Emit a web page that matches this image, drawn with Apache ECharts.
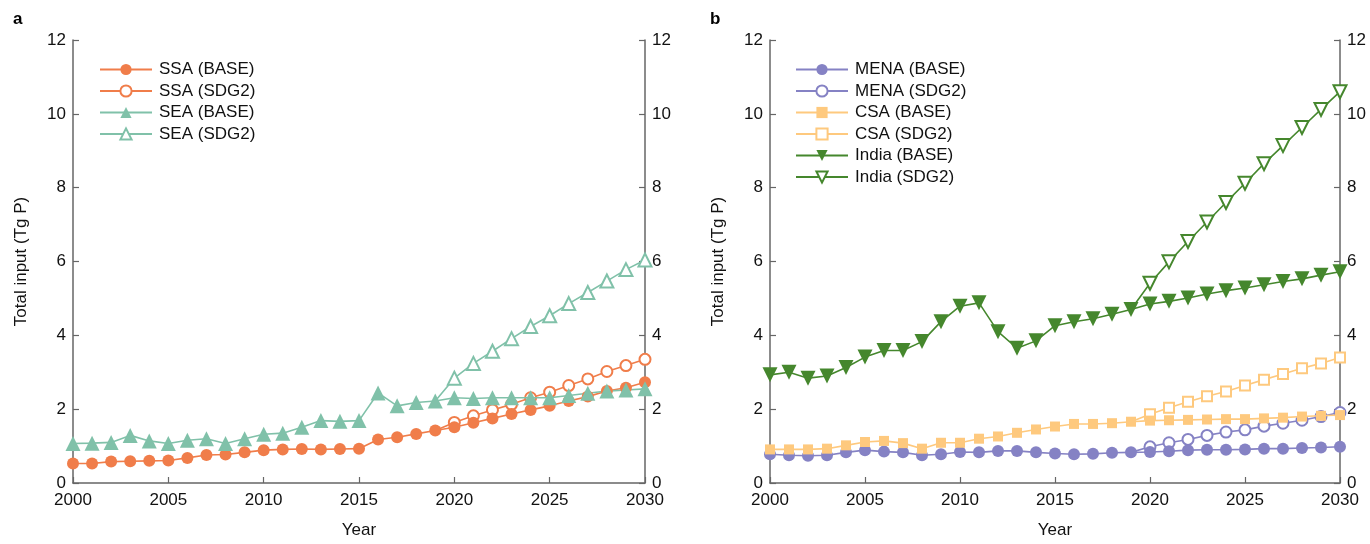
<!DOCTYPE html>
<html><head><meta charset="utf-8">
<script src="https://cdn.jsdelivr.net/npm/echarts@6/dist/echarts.min.js"></script>
<style>html,body{margin:0;padding:0;background:#fff}#c{width:1370px;height:544px}</style>
</head><body><div id="c"></div>
<script>
const years = [2000,2001,2002,2003,2004,2005,2006,2007,2008,2009,2010,2011,2012,2013,2014,2015,2016,2017,2018,2019,2020,2021,2022,2023,2024,2025,2026,2027,2028,2029,2030];
const sdgYears = [2019,2020,2021,2022,2023,2024,2025,2026,2027,2028,2029,2030];
const xTicks = [2000,2005,2010,2015,2020,2025,2030];
const yTicks = [0,2,4,6,8,10,12];

// Panel a
const ssaBase = [0.53,0.53,0.58,0.59,0.6,0.61,0.68,0.76,0.77,0.83,0.89,0.91,0.92,0.91,0.92,0.93,1.18,1.24,1.33,1.42,1.51,1.63,1.75,1.87,1.98,2.09,2.22,2.34,2.49,2.58,2.73];
const ssaSdg2 = [1.42,1.64,1.82,1.98,2.13,2.31,2.46,2.64,2.82,3.02,3.18,3.35];
const seaBase = [1.07,1.08,1.1,1.29,1.14,1.07,1.16,1.2,1.07,1.2,1.32,1.35,1.51,1.69,1.67,1.69,2.44,2.09,2.18,2.22,2.31,2.29,2.31,2.31,2.31,2.31,2.37,2.43,2.49,2.52,2.55];
const seaSdg2 = [2.22,2.84,3.24,3.57,3.91,4.24,4.53,4.86,5.16,5.47,5.78,6.04];

// Panel b
const menaBase = [0.78,0.75,0.74,0.75,0.83,0.89,0.85,0.83,0.75,0.78,0.84,0.83,0.87,0.87,0.83,0.8,0.78,0.79,0.82,0.83,0.84,0.86,0.89,0.9,0.9,0.91,0.93,0.93,0.95,0.96,0.98];
const menaSdg2 = [0.83,0.98,1.09,1.18,1.29,1.38,1.44,1.54,1.62,1.7,1.8,1.91];
const csaBase = [0.91,0.91,0.91,0.93,1.02,1.11,1.14,1.08,0.93,1.09,1.09,1.2,1.26,1.36,1.45,1.53,1.6,1.6,1.62,1.66,1.69,1.7,1.71,1.72,1.73,1.73,1.75,1.77,1.8,1.82,1.84];
const csaSdg2 = [1.66,1.86,2.04,2.2,2.35,2.48,2.64,2.8,2.95,3.11,3.24,3.4];
const indiaBase = [2.93,3.0,2.84,2.9,3.13,3.41,3.59,3.59,3.83,4.37,4.79,4.88,4.1,3.65,3.85,4.26,4.37,4.45,4.57,4.7,4.85,4.92,5.01,5.12,5.21,5.28,5.37,5.46,5.53,5.63,5.72];
const indiaSdg2 = [4.7,5.41,5.99,6.54,7.07,7.6,8.12,8.65,9.14,9.63,10.12,10.6];

const C = {ssa:'#F07D4A', sea:'#80C1A9', mena:'#8582C4', csa:'#FEC97E', india:'#45872D'};
const FONT = 'Liberation Sans, Arial, Helvetica, sans-serif';
const FS = 17;

function pairs(xs, ys, hideFirst) {
  return xs.map((x, i) => {
    const d = {value: [x, ys[i]]};
    if (hideFirst && i === 0) d.symbol = 'none';
    return d;
  });
}
function mk(name, color, symbol, size, xs, ys, idx, opts) {
  const hollow = symbol.indexOf('empty') === 0;
  return Object.assign({
    name, type: 'line', xAxisIndex: idx, yAxisIndex: idx * 2,
    data: pairs(xs, ys, hollow),
    symbol, symbolSize: size,
    lineStyle: {color, width: 1.6},
    itemStyle: {color, borderWidth: hollow ? 1.6 : 0},
    z: hollow ? 2 : 3,
    animation: false
  }, opts || {});
}

function xAxis(gi) {
  return {
    type: 'value', gridIndex: gi, min: 2000, max: 2030, interval: 5,
    name: 'Year', nameLocation: 'middle', nameGap: 39,
    nameTextStyle: {fontFamily: FONT, fontSize: FS, color: '#111'},
    axisLine: {lineStyle: {color: '#666', width: 1.5}},
    axisTick: {inside: true, length: 6, lineStyle: {color: '#666', width: 1.2}},
    axisLabel: {fontFamily: FONT, fontSize: FS, color: '#111', margin: 9, formatter: v => String(v)},
    splitLine: {show: false}
  };
}
function yAxis(gi, pos) {
  const left = pos === 'left';
  return {
    type: 'value', gridIndex: gi, position: pos, min: 0, max: 12, interval: 2,
    name: left ? 'Total input (Tg P)' : '', nameLocation: 'middle', nameGap: 43,
    nameTextStyle: {fontFamily: FONT, fontSize: FS, color: '#111'},
    axisLine: {show: true, onZero: false, lineStyle: {color: '#666', width: 1.5}},
    axisTick: {show: true, inside: true, length: 6, lineStyle: {color: '#666', width: 1.2}},
    axisLabel: {fontFamily: FONT, fontSize: FS, color: '#111', margin: 7},
    splitLine: {show: false}
  };
}
function legend(left, names) {
  return {
    orient: 'vertical', left, top: 56, data: names,
    itemWidth: 52, itemHeight: 14, itemGap: 4.5,
    textStyle: {fontFamily: FONT, fontSize: FS, color: '#111', padding: [0,0,0,2]},
    selectedMode: false
  };
}

const option = {
  backgroundColor: '#fff',
  animation: false,
  title: [
    {text: 'a', left: 8, top: 6, textStyle: {fontFamily: FONT, fontSize: 17, fontWeight: 'bold', color: '#000'}},
    {text: 'b', left: 705, top: 6, textStyle: {fontFamily: FONT, fontSize: 17, fontWeight: 'bold', color: '#000'}}
  ],
  grid: [
    {left: 73, right: 725, top: 40, bottom: 54},
    {left: 770, right: 30, top: 40, bottom: 54}
  ],
  xAxis: [xAxis(0), xAxis(1)],
  yAxis: [yAxis(0, 'left'), yAxis(0, 'right'), yAxis(1, 'left'), yAxis(1, 'right')],
  legend: [
    legend(94, ['SSA (BASE)', 'SSA (SDG2)', 'SEA (BASE)', 'SEA (SDG2)']),
    legend(790, ['MENA (BASE)', 'MENA (SDG2)', 'CSA (BASE)', 'CSA (SDG2)', 'India (BASE)', 'India (SDG2)'])
  ],
  series: [
    mk('SSA (BASE)', C.ssa, 'circle', 12, years, ssaBase, 0),
    mk('SSA (SDG2)', C.ssa, 'emptyCircle', 11, sdgYears, ssaSdg2, 0),
    mk('SEA (BASE)', C.sea, 'triangle', 15, years, seaBase, 0),
    mk('SEA (SDG2)', C.sea, 'emptyTriangle', 13, sdgYears, seaSdg2, 0),
    mk('MENA (BASE)', C.mena, 'circle', 12, years, menaBase, 1),
    mk('MENA (SDG2)', C.mena, 'emptyCircle', 11, sdgYears, menaSdg2, 1),
    mk('CSA (BASE)', C.csa, 'rect', 10, years, csaBase, 1),
    mk('CSA (SDG2)', C.csa, 'emptyRect', 10, sdgYears, csaSdg2, 1),
    mk('India (BASE)', C.india, 'triangle', 15, years, indiaBase, 1, {symbolRotate: 180}),
    mk('India (SDG2)', C.india, 'emptyTriangle', 13, sdgYears, indiaSdg2, 1, {symbolRotate: 180})
  ]
};
const chart = echarts.init(document.getElementById('c'), null, {renderer: 'canvas'});
chart.setOption(option);
</script></body></html>
